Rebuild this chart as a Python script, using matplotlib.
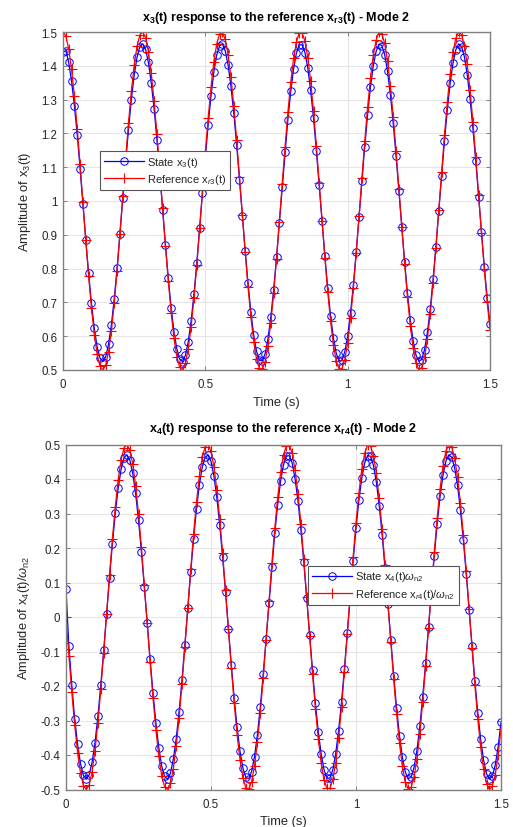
import numpy as np
import matplotlib
matplotlib.use("Agg")
import matplotlib.pyplot as plt
from matplotlib.ticker import FuncFormatter, MultipleLocator

plt.rcParams["font.family"] = ["Liberation Sans", "DejaVu Sans"]
plt.rcParams["mathtext.fontset"] = "custom"
plt.rcParams["mathtext.rm"] = "Liberation Sans"
plt.rcParams["mathtext.it"] = "Liberation Sans:italic"
plt.rcParams["mathtext.bf"] = "Liberation Sans:bold"

# sampled responses, 0.01 s step from 0 to 1.5 s
dt = 0.01

ref_x3 = [1.500, 1.488, 1.450, 1.390, 1.310, 1.214, 1.108, 0.996, 0.884, 0.778,
          0.683, 0.605, 0.546, 0.511, 0.500, 0.515, 0.554, 0.616, 0.698, 0.794,
          0.902, 1.014, 1.125, 1.230, 1.324, 1.401, 1.458, 1.491, 1.500, 1.483,
          1.442, 1.378, 1.296, 1.198, 1.090, 0.978, 0.866, 0.762, 0.670, 0.594,
          0.539, 0.508, 0.501, 0.520, 0.563, 0.628, 0.712, 0.811, 0.919, 1.032,
          1.143, 1.246, 1.337, 1.412, 1.465, 1.494, 1.499, 1.478, 1.433, 1.366,
          1.281, 1.181, 1.072, 0.960, 0.849, 0.746, 0.656, 0.584, 0.532, 0.505,
          0.502, 0.525, 0.572, 0.640, 0.727, 0.828, 0.937, 1.050, 1.160, 1.262,
          1.351, 1.422, 1.471, 1.497, 1.497, 1.473, 1.424, 1.354, 1.266, 1.164,
          1.054, 0.942, 0.832, 0.731, 0.644, 0.574, 0.526, 0.503, 0.504, 0.531,
          0.581, 0.653, 0.742, 0.845, 0.955, 1.068, 1.177, 1.277, 1.363, 1.431,
          1.477, 1.499, 1.495, 1.466, 1.414, 1.341, 1.250, 1.147, 1.036, 0.924,
          0.815, 0.716, 0.631, 0.565, 0.521, 0.501, 0.507, 0.537, 0.592, 0.666,
          0.758, 0.862, 0.973, 1.086, 1.194, 1.292, 1.375, 1.440, 1.482, 1.500,
          1.492, 1.460, 1.404, 1.327, 1.234, 1.130, 1.018, 0.906, 0.799, 0.701,
          0.619]

state_x3 = [1.440, 1.445, 1.410, 1.355, 1.282, 1.196, 1.096, 0.991, 0.885, 0.786,
            0.697, 0.623, 0.568, 0.535, 0.525, 0.539, 0.576, 0.634, 0.711, 0.801,
            0.902, 1.008, 1.113, 1.211, 1.299, 1.372, 1.425, 1.457, 1.465, 1.449,
            1.410, 1.350, 1.273, 1.181, 1.080, 0.974, 0.869, 0.771, 0.684, 0.613,
            0.562, 0.532, 0.525, 0.543, 0.584, 0.645, 0.724, 0.817, 0.919, 1.025,
            1.129, 1.226, 1.312, 1.382, 1.432, 1.459, 1.464, 1.444, 1.402, 1.339,
            1.259, 1.165, 1.063, 0.957, 0.853, 0.756, 0.672, 0.603, 0.555, 0.529,
            0.527, 0.548, 0.592, 0.657, 0.738, 0.833, 0.936, 1.042, 1.145, 1.241,
            1.324, 1.391, 1.438, 1.462, 1.462, 1.439, 1.393, 1.327, 1.245, 1.149,
            1.046, 0.940, 0.837, 0.742, 0.660, 0.595, 0.549, 0.527, 0.529, 0.554,
            0.601, 0.669, 0.752, 0.849, 0.953, 1.058, 1.161, 1.255, 1.336, 1.400,
            1.443, 1.464, 1.460, 1.433, 1.384, 1.315, 1.230, 1.133, 1.029, 0.923,
            0.821, 0.728, 0.648, 0.586, 0.544, 0.526, 0.531, 0.560, 0.611, 0.681,
            0.768, 0.865, 0.970, 1.075, 1.177, 1.269, 1.348, 1.408, 1.448, 1.465,
            1.457, 1.427, 1.374, 1.302, 1.215, 1.117, 1.012, 0.907, 0.806, 0.714,
            0.637]

ref_x4 = [0.000, -0.112, -0.218, -0.314, -0.393, -0.452, -0.489, -0.500, -0.487, -0.448,
          -0.387, -0.306, -0.210, -0.103, 0.009, 0.121, 0.226, 0.320, 0.398, 0.456,
          0.490, 0.500, 0.484, 0.444, 0.381, 0.299, 0.202, 0.094, -0.018, -0.130,
          -0.234, -0.327, -0.404, -0.460, -0.492, -0.500, -0.482, -0.440, -0.375, -0.292,
          -0.194, -0.086, 0.027, 0.138, 0.242, 0.334, 0.409, 0.463, 0.494, 0.499,
          0.480, 0.436, 0.369, 0.285, 0.185, 0.077, -0.036, -0.147, -0.250, -0.341,
          -0.414, -0.466, -0.495, -0.499, -0.477, -0.431, -0.363, -0.277, -0.177, -0.068,
          0.045, 0.156, 0.258, 0.347, 0.419, 0.470, 0.496, 0.498, 0.474, 0.426,
          0.357, 0.270, 0.168, 0.059, -0.054, -0.164, -0.266, -0.354, -0.424, -0.473,
          -0.497, -0.497, -0.471, -0.422, -0.351, -0.262, -0.160, -0.050, 0.063, 0.173,
          0.273, 0.360, 0.429, 0.475, 0.498, 0.496, 0.468, 0.417, 0.344, 0.254,
          0.151, 0.041, -0.072, -0.181, -0.281, -0.366, -0.433, -0.478, -0.499, -0.494,
          -0.465, -0.412, -0.338, -0.246, -0.143, -0.032, 0.081, 0.189, 0.288, 0.372,
          0.438, 0.481, 0.500, 0.493, 0.461, 0.406, 0.331, 0.238, 0.134, 0.023,
          -0.090, -0.198, -0.296, -0.378, -0.442, -0.483, -0.500, -0.491, -0.458, -0.401,
          -0.324]

state_x4 = [0.080, -0.085, -0.198, -0.295, -0.369, -0.425, -0.459, -0.470, -0.457, -0.421,
            -0.364, -0.288, -0.197, -0.097, 0.008, 0.113, 0.212, 0.301, 0.374, 0.428,
            0.461, 0.470, 0.455, 0.417, 0.358, 0.281, 0.189, 0.088, -0.017, -0.122,
            -0.220, -0.307, -0.379, -0.432, -0.462, -0.470, -0.453, -0.413, -0.353, -0.274,
            -0.182, -0.080, 0.025, 0.130, 0.227, 0.314, 0.384, 0.435, 0.464, 0.469,
            0.451, 0.409, 0.347, 0.267, 0.174, 0.072, -0.034, -0.138, -0.235, -0.320,
            -0.389, -0.438, -0.465, -0.469, -0.448, -0.405, -0.341, -0.260, -0.166, -0.063,
            0.042, 0.146, 0.243, 0.326, 0.394, 0.441, 0.466, 0.468, 0.446, 0.400,
            0.336, 0.253, 0.158, 0.055, -0.051, -0.154, -0.250, -0.332, -0.398, -0.444,
            -0.467, -0.467, -0.443, -0.396, -0.329, -0.246, -0.150, -0.047, 0.059, 0.162,
            0.257, 0.338, 0.403, 0.447, 0.468, 0.466, 0.440, 0.392, 0.323, 0.239,
            0.142, 0.038, -0.068, -0.170, -0.264, -0.344, -0.407, -0.449, -0.469, -0.464,
            -0.437, -0.387, -0.317, -0.231, -0.134, -0.030, 0.076, 0.178, 0.271, 0.350,
            0.411, 0.452, 0.470, 0.463, 0.433, 0.382, 0.311, 0.224, 0.126, 0.021,
            -0.084, -0.186, -0.278, -0.355, -0.415, -0.454, -0.470, -0.462, -0.430, -0.377,
            -0.305]

t = np.arange(len(ref_x3)) * dt

panels = [
    dict(state=state_x3, ref=ref_x3, ylim=(0.5, 1.5),
         title=r"x$_\mathbf{3}$(t) response to the reference x$_\mathbf{r3}$(t) - Mode 2",
         ylabel=r"Amplitude of x$_3$(t)",
         lab_state=r"State x$_3$(t)", lab_ref=r"Reference x$_{r3}$(t)",
         rect=[63/513, 1 - 371/828, 427/513, 338/828], leg=(0.087, 0.648), tpad=9),
    dict(state=state_x4, ref=ref_x4, ylim=(-0.5, 0.5),
         title=r"x$_\mathbf{4}$(t) response to the reference x$_\mathbf{r4}$(t) - Mode 2",
         ylabel=r"Amplitude of x$_4$(t)/$\omega_\mathrm{n2}$",
         lab_state=r"State x$_4$(t)$\omega_\mathrm{n2}$",
         lab_ref=r"Reference x$_{r4}$(t)/$\omega_\mathrm{n2}$",
         rect=[66/513, 1 - 790.5/828, 435/513, 345/828], leg=(0.556, 0.649), tpad=10),
]


def tick_text(v, pos):
    if abs(v) < 1e-9:
        return "0"
    return "%g" % round(v, 2)


fig = plt.figure(figsize=(5.13, 8.28), dpi=100)
edge = "#808080"
txt = "#262626"
for p in panels:
    ax = fig.add_axes(p["rect"])
    ax.plot(t, p["state"], "-o", color="#0000FF", lw=0.9, ms=5.4, mfc="none", mew=0.7,
            label=p["lab_state"])
    ax.plot(t, p["ref"], "-+", color="#FF0000", lw=0.9, ms=7.5, mew=0.8, label=p["lab_ref"])
    ax.set_xlim(0, 1.5)
    ax.set_ylim(*p["ylim"])
    ax.xaxis.set_major_locator(MultipleLocator(0.5))
    ax.yaxis.set_major_locator(MultipleLocator(0.1))
    ax.xaxis.set_major_formatter(FuncFormatter(tick_text))
    ax.yaxis.set_major_formatter(FuncFormatter(tick_text))
    ax.grid(True, color="#e6e6e6", lw=0.8)
    ax.set_axisbelow(True)
    for s in ax.spines.values():
        s.set_color(edge)
        s.set_linewidth(1.0)
    ax.tick_params(direction="in", top=True, right=True, length=3, width=0.7,
                   color=edge, labelsize=8.3, labelcolor=txt)
    ax.tick_params(axis="x", pad=6)
    ax.tick_params(axis="y", pad=4)
    ax.set_title(p["title"], fontsize=9, fontweight="bold", color="#000000", pad=p["tpad"])
    ax.set_xlabel("Time (s)", fontsize=9.3, color=txt, labelpad=4)
    ax.set_ylabel(p["ylabel"], fontsize=9.3, color=txt, labelpad=6)
    leg = ax.legend(loc="upper left", bbox_to_anchor=p["leg"], fontsize=8, frameon=True,
                    fancybox=False, edgecolor="#555555", framealpha=1,
                    borderpad=0.35, labelspacing=0.3, handlelength=3.6, handletextpad=0.3,
                    borderaxespad=0)
    leg.get_frame().set_linewidth(0.8)
    for tx in leg.get_texts():
        tx.set_color(txt)

fig.savefig("out.png", dpi=100)
